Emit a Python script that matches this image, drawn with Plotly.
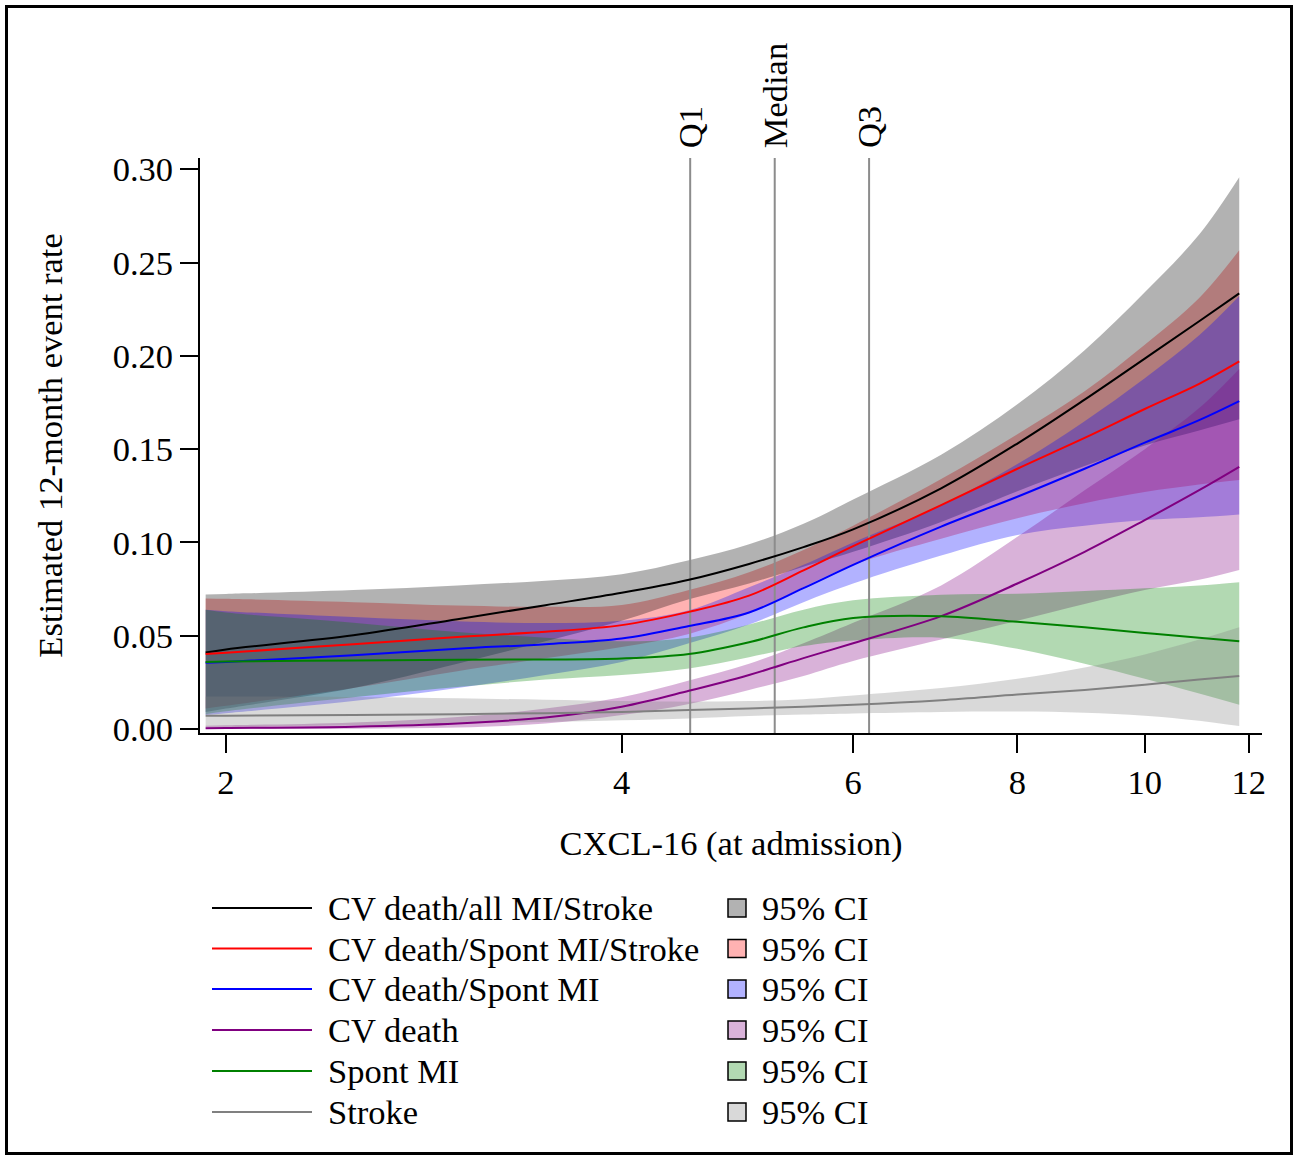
import numpy as np
import plotly.graph_objects as go

# ---------------- data ----------------
cxcl16 = [1.93, 2, 2.5, 3, 3.5, 4, 4.5, 5, 5.5, 6, 7, 8, 9, 10, 11, 11.8]

all_est = [0.0410, 0.0427, 0.0503, 0.0589, 0.0664, 0.0730, 0.0800, 0.0885, 0.0975, 0.1070, 0.1290, 0.1530, 0.1765, 0.1985, 0.2185, 0.2335]
all_lo = [0.0091, 0.0110, 0.0220, 0.0350, 0.0470, 0.0580, 0.0695, 0.0780, 0.0870, 0.0950, 0.1110, 0.1275, 0.1410, 0.1520, 0.1600, 0.1660]
all_hi = [0.0721, 0.0724, 0.0745, 0.0770, 0.0795, 0.0830, 0.0905, 0.0990, 0.1100, 0.1230, 0.1470, 0.1740, 0.2030, 0.2340, 0.2650, 0.2957]

sps_est = [0.0402, 0.0409, 0.0455, 0.0494, 0.0521, 0.0557, 0.0628, 0.0715, 0.0850, 0.0980, 0.1200, 0.1395, 0.1560, 0.1715, 0.1850, 0.1970]
sps_lo = [0.0110, 0.0125, 0.0220, 0.0310, 0.0380, 0.0440, 0.0510, 0.0620, 0.0760, 0.0880, 0.1020, 0.1130, 0.1210, 0.1270, 0.1310, 0.1334]
sps_hi = [0.0700, 0.0698, 0.0680, 0.0662, 0.0655, 0.0665, 0.0745, 0.0840, 0.0960, 0.1090, 0.1340, 0.1580, 0.1810, 0.2060, 0.2310, 0.2566]

spm_est = [0.0355, 0.0360, 0.0396, 0.0431, 0.0455, 0.0485, 0.0552, 0.0625, 0.0755, 0.0880, 0.1085, 0.1245, 0.1395, 0.1535, 0.1655, 0.1757]
spm_lo = [0.0075, 0.0085, 0.0150, 0.0220, 0.0290, 0.0360, 0.0460, 0.0560, 0.0680, 0.0780, 0.0930, 0.1040, 0.1090, 0.1120, 0.1135, 0.1150]
spm_hi = [0.0640, 0.0632, 0.0600, 0.0578, 0.0568, 0.0580, 0.0637, 0.0760, 0.0880, 0.1000, 0.1200, 0.1420, 0.1650, 0.1880, 0.2110, 0.2320]

cvd_est = [0.0005, 0.0006, 0.0013, 0.0030, 0.0062, 0.0120, 0.0205, 0.0290, 0.0380, 0.0460, 0.0605, 0.0780, 0.0950, 0.1120, 0.1280, 0.1405]
cvd_lo = [0.0000, 0.0000, 0.0002, 0.0008, 0.0030, 0.0075, 0.0135, 0.0210, 0.0285, 0.0365, 0.0480, 0.0580, 0.0670, 0.0745, 0.0800, 0.0853]
cvd_hi = [0.0018, 0.0020, 0.0035, 0.0065, 0.0110, 0.0170, 0.0260, 0.0350, 0.0460, 0.0570, 0.0770, 0.1030, 0.1280, 0.1500, 0.1720, 0.1930]

mi_est = [0.0360, 0.0362, 0.0368, 0.0372, 0.0373, 0.0378, 0.0402, 0.0465, 0.0545, 0.0595, 0.0605, 0.0575, 0.0545, 0.0515, 0.0490, 0.0470]
mi_lo = [0.0080, 0.0095, 0.0170, 0.0225, 0.0265, 0.0290, 0.0325, 0.0385, 0.0445, 0.0475, 0.0490, 0.0430, 0.0350, 0.0270, 0.0190, 0.0130]
mi_hi = [0.0640, 0.0625, 0.0570, 0.0520, 0.0490, 0.0470, 0.0490, 0.0560, 0.0640, 0.0690, 0.0720, 0.0725, 0.0740, 0.0755, 0.0770, 0.0787]

stk_est = [0.0071, 0.0072, 0.0076, 0.0080, 0.0085, 0.0092, 0.0102, 0.0110, 0.0120, 0.0130, 0.0155, 0.0185, 0.0210, 0.0238, 0.0265, 0.0285]
stk_lo = [0.0012, 0.0013, 0.0020, 0.0030, 0.0038, 0.0047, 0.0057, 0.0070, 0.0078, 0.0084, 0.0092, 0.0094, 0.0088, 0.0072, 0.0045, 0.0016]
stk_hi = [0.0175, 0.0175, 0.0172, 0.0165, 0.0157, 0.0150, 0.0147, 0.0150, 0.0160, 0.0180, 0.0220, 0.0270, 0.0330, 0.0400, 0.0480, 0.0546]

series_names = ["CV death/all MI/Stroke", "CV death/Spont MI/Stroke", "CV death/Spont MI",
                "CV death", "Spont MI", "Stroke"]
quartile_labels = ["Q1", "Median", "Q3"]
quartile_values = [4.51, 5.23, 6.17]
x_ticks = [2, 4, 6, 8, 10, 12]
y_ticks = [0.00, 0.05, 0.10, 0.15, 0.20, 0.25, 0.30]

# ---------------- styling ----------------
FONT = "Liberation Serif"
FS = 34.5
line_colors = ["rgb(0,0,0)", "rgb(255,0,0)", "rgb(0,0,255)", "rgb(128,0,128)", "rgb(0,128,0)", "rgb(128,128,128)"]
fill_colors = ["rgba(0,0,0,0.3)", "rgba(255,0,0,0.3)", "rgba(0,0,255,0.3)",
               "rgba(128,0,128,0.3)", "rgba(0,128,0,0.3)", "rgba(128,128,128,0.3)"]

ests = [all_est, sps_est, spm_est, cvd_est, mi_est, stk_est]
los = [all_lo, sps_lo, spm_lo, cvd_lo, mi_lo, stk_lo]
his = [all_hi, sps_hi, spm_hi, cvd_hi, mi_hi, stk_hi]

fig = go.Figure()

# confidence bands
band_order = [1, 0, 2, 3, 4, 5]
for i in band_order:
    fig.add_trace(go.Scatter(x=cxcl16, y=los[i], mode="lines",
                             line=dict(width=0, shape="spline", color=fill_colors[i]),
                             hoverinfo="skip", showlegend=False))
    fig.add_trace(go.Scatter(x=cxcl16, y=his[i], mode="lines", fill="tonexty",
                             fillcolor=fill_colors[i],
                             line=dict(width=0, shape="spline", color=fill_colors[i]),
                             hoverinfo="skip", showlegend=False))

# quartile reference lines
Y_RANGE = [-0.0021, 0.306]
for q in quartile_values:
    fig.add_trace(go.Scatter(x=[q, q], y=Y_RANGE, mode="lines",
                             line=dict(color="rgb(140,140,140)", width=2),
                             hoverinfo="skip", showlegend=False))

# estimate lines
for i in range(len(series_names)):
    fig.add_trace(go.Scatter(x=cxcl16, y=ests[i], mode="lines",
                             line=dict(color=line_colors[i], width=2, shape="spline"),
                             name=series_names[i], showlegend=False))

# ---------------- layout geometry (pixels -> paper) ----------------
W, H = 1294, 1157
L, R, T, B = 200, 32, 158, 424
PW, PH = W - L - R, H - T - B


def px(xp):
    return (xp - L) / PW


def py(yp):
    return (H - B - yp) / PH


annotations = []
for lab, q in zip(quartile_labels, quartile_values):
    annotations.append(dict(x=np.log10(q), xref="x", y=1, yref="paper", text=lab,
                            textangle=-90, showarrow=False, xanchor="center", yanchor="bottom",
                            yshift=8, font=dict(family=FONT, size=FS, color="black")))

shapes = []
# outer frame
shapes.append(dict(type="rect", xref="paper", yref="paper", x0=px(6.5), x1=px(1291.5),
                   y0=py(1153.5), y1=py(6.5), line=dict(color="black", width=3)))

row_y = [908, 948.5, 989, 1030, 1071, 1112]
for i, name in enumerate(series_names):
    yc = py(row_y[i])
    shapes.append(dict(type="line", xref="paper", yref="paper", x0=px(212), x1=px(312),
                       y0=yc, y1=yc, line=dict(color=line_colors[i], width=2)))
    annotations.append(dict(x=px(326), y=yc, xref="paper", yref="paper", text=name,
                            showarrow=False, xanchor="left", yanchor="middle",
                            font=dict(family=FONT, size=FS, color="black")))
    shapes.append(dict(type="rect", xref="paper", yref="paper", x0=px(728), x1=px(746),
                       y0=yc - 9 / PH, y1=yc + 9 / PH, fillcolor=fill_colors[i],
                       line=dict(color="black", width=1.5)))
    annotations.append(dict(x=px(760), y=yc, xref="paper", yref="paper", text="95% CI",
                            showarrow=False, xanchor="left", yanchor="middle",
                            font=dict(family=FONT, size=FS, color="black")))

fig.update_layout(
    width=W, height=H, autosize=False,
    margin=dict(l=L, r=R, t=T, b=B, pad=0),
    plot_bgcolor="white", paper_bgcolor="white",
    showlegend=False,
    font=dict(family=FONT, size=FS, color="black"),
    annotations=annotations, shapes=shapes,
    xaxis=dict(type="log", range=[np.log10(1.911), np.log10(12.28)],
               tickmode="array", tickvals=x_ticks, ticktext=[str(v) for v in x_ticks],
               showline=True, linecolor="black", linewidth=2, mirror=False,
               ticks="outside", ticklen=18, tickwidth=2, tickcolor="black",
               showgrid=False, zeroline=False, automargin=False,
               tickfont=dict(family=FONT, size=FS, color="black"),
               title=dict(text="CXCL-16 (at admission)", standoff=30,
                          font=dict(family=FONT, size=FS, color="black"))),
    yaxis=dict(range=Y_RANGE, tickmode="array", tickvals=y_ticks,
               ticktext=["%.2f" % v for v in y_ticks],
               showline=True, linecolor="black", linewidth=2, mirror=False,
               ticks="outside", ticklen=18, tickwidth=2, tickcolor="black",
               showgrid=False, zeroline=False, automargin=False,
               tickfont=dict(family=FONT, size=FS, color="black"),
               title=dict(text="Estimated 12-month event rate", standoff=40,
                          font=dict(family=FONT, size=FS, color="black"))),
)

fig.write_html("out.html", config={"displayModeBar": False},
               post_script="document.body.style.margin='0';")
